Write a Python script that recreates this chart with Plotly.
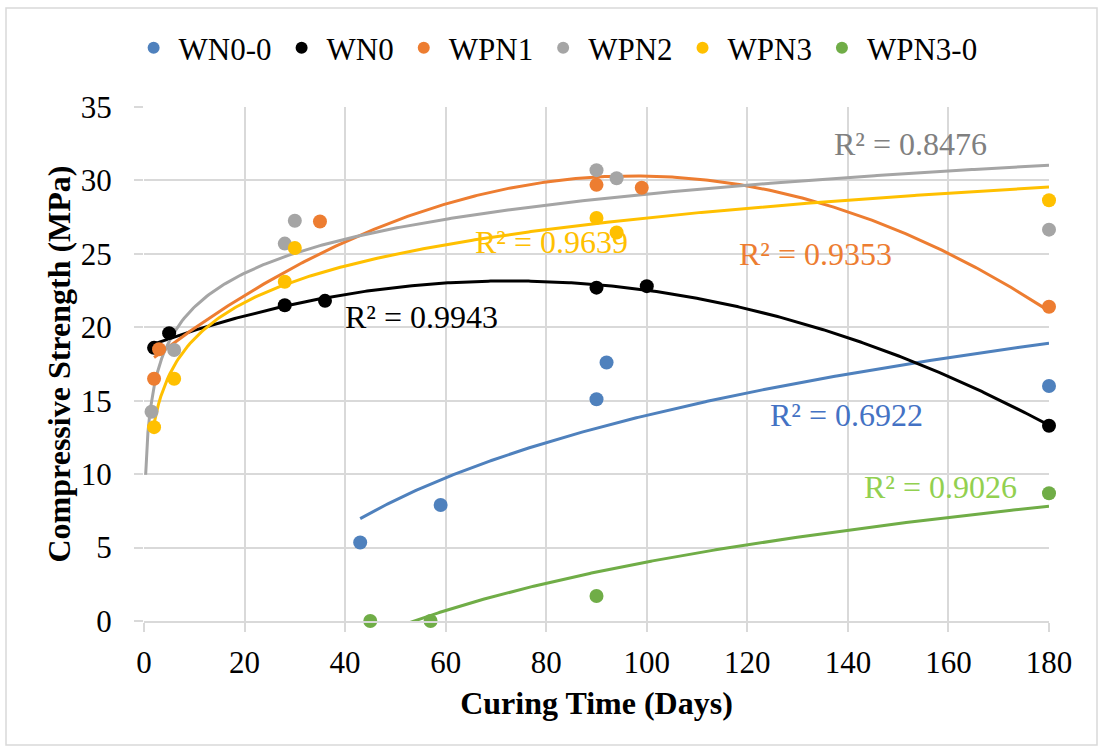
import numpy as np
import plotly.graph_objects as go

# Compressive strength (MPa) against curing time (days) for each mix
series_names = ["WN0-0", "WN0", "WPN1", "WPN2", "WPN3", "WPN3-0"]

wn0_0_days = [43, 59, 90, 92, 180]
wn0_0_mpa = [5.35, 7.9, 15.1, 17.6, 16.0]

wn0_days = [2, 5, 28, 36, 90, 100, 180]
wn0_mpa = [18.6, 19.6, 21.5, 21.8, 22.7, 22.8, 13.3]

wpn1_days = [2, 3, 35, 90, 99, 180]
wpn1_mpa = [16.5, 18.5, 27.2, 29.7, 29.5, 21.4]

wpn2_days = [1.5, 6, 28, 30, 90, 94, 180]
wpn2_mpa = [14.25, 18.45, 25.7, 27.25, 30.7, 30.15, 26.65]

wpn3_days = [2, 6, 28, 30, 90, 94, 180]
wpn3_mpa = [13.2, 16.5, 23.1, 25.4, 27.45, 26.45, 28.65]

wpn3_0_days = [45, 57, 90, 180]
wpn3_0_mpa = [0.0, 0.0, 1.7, 8.7]

# Trendline type per mix ("log" or polynomial order 2) and where each line begins
trend_kind = ["log", "poly2", "poly2", "log", "log", "log"]
trend_start = [43, 2, 2, 0.33, 2, 45]
trend_end = [180, 180, 180, 180, 180, 180]
r2_labels = ["R² = 0.6922", "R² = 0.9943", "R² = 0.9353",
             "R² = 0.8476", "R² = 0.9639", "R² = 0.9026"]
r2_label_x = [139.8, 55.1, 133.6, 152.5, 81.0, 158.5]
r2_label_y = [14.0, 20.7, 25.0, 32.5, 25.8, 9.1]

marker_colors = ["#4F81BD", "#000000", "#ED7D31", "#A5A5A5", "#FFC000", "#70AD47"]
line_colors = ["#4F81BD", "#000000", "#ED7D31", "#A5A5A5", "#FFC000", "#70AD47"]
label_colors = ["#4472C4", "#000000", "#ED7D31", "#808080", "#FFC000", "#92D050"]

days = [wn0_0_days, wn0_days, wpn1_days, wpn2_days, wpn3_days, wpn3_0_days]
mpa = [wn0_0_mpa, wn0_mpa, wpn1_mpa, wpn2_mpa, wpn3_mpa, wpn3_0_mpa]

FONT = "Liberation Serif"

fig = go.Figure()

# Fitted trendlines first so the points sit on top
for i in range(len(series_names)):
    x = np.asarray(days[i], dtype=float)
    y = np.asarray(mpa[i], dtype=float)
    xs = np.linspace(trend_start[i], trend_end[i], 400)
    if trend_kind[i] == "log":
        b, a = np.polyfit(np.log(x), y, 1)
        ys = a + b * np.log(xs)
    else:
        coeffs = np.polyfit(x, y, 2)
        ys = np.polyval(coeffs, xs)
    fig.add_trace(go.Scatter(
        x=xs, y=ys, mode="lines",
        line=dict(color=line_colors[i], width=3),
        showlegend=False, hoverinfo="skip",
    ))

for i, name in enumerate(series_names):
    fig.add_trace(go.Scatter(
        x=days[i], y=mpa[i], mode="markers", name=name,
        marker=dict(color=marker_colors[i], size=14, line=dict(width=0)),
        cliponaxis=False,
    ))

for i in range(len(series_names)):
    fig.add_annotation(
        x=r2_label_x[i], y=r2_label_y[i], text=r2_labels[i],
        showarrow=False, xanchor="center", yanchor="middle",
        font=dict(family=FONT, size=32, color=label_colors[i]),
    )

grid_color = "#D9D9D9"
fig.update_xaxes(
    range=[0, 180], tickmode="array", tickvals=list(range(0, 181, 20)),
    showgrid=True, gridcolor=grid_color, gridwidth=1.5,
    zeroline=False, showline=True, linecolor=grid_color, linewidth=1.5,
    ticks="outside", ticklen=9, tickcolor=grid_color, tickwidth=1.5,
    ticklabelstandoff=4,
    tickfont=dict(family=FONT, size=31, color="#000000"),
    title=dict(text="<b>Curing Time (Days)</b>", standoff=13,
               font=dict(family=FONT, size=32, color="#000000")),
)
fig.update_yaxes(
    range=[0, 35], tickmode="array", tickvals=list(range(0, 36, 5)),
    showgrid=True, gridcolor=grid_color, gridwidth=1.5,
    zeroline=False, showline=False,
    ticks="outside", ticklen=9, tickcolor=grid_color, tickwidth=1.5,
    ticklabelstandoff=16,
    tickfont=dict(family=FONT, size=31, color="#000000"),
    title=dict(text="<b>Compressive Strength (MPa)</b>", standoff=0,
               font=dict(family=FONT, size=32, color="#000000")),
)

# Light outer border around the chart area
W, H = 1101, 749
L, R, T, B = 144, 52, 107, 128
pw, ph = W - L - R, H - T - B
fig.add_shape(
    type="rect", xref="paper", yref="paper",
    x0=(6 - L) / pw, x1=(W - 4 - L) / pw,
    y0=-(H - 4 - (H - B)) / ph, y1=1 + (T - 8) / ph,
    line=dict(color="#D9D9D9", width=1.5), layer="below",
)

fig.update_layout(
    width=W, height=H,
    margin=dict(l=L, r=R, t=T, b=B),
    paper_bgcolor="#FFFFFF", plot_bgcolor="#FFFFFF",
    font=dict(family=FONT, color="#000000"),
    legend=dict(
        orientation="h", x=-0.017, xanchor="left", y=1 + (107 - 48) / ph,
        yanchor="middle", font=dict(family=FONT, size=31, color="#000000"),
        itemsizing="constant", itemwidth=40, tracegroupgap=0,
    ),
)

fig.write_html("out.html")
